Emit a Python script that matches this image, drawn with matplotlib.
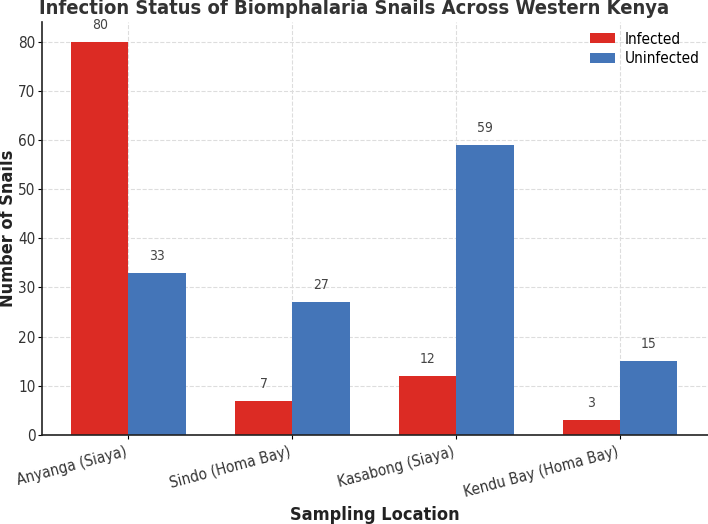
import numpy as np
import matplotlib
matplotlib.use("Agg")
import matplotlib.pyplot as plt

locations = ["Anyanga (Siaya)", "Sindo (Homa Bay)", "Kasabong (Siaya)", "Kendu Bay (Homa Bay)"]
infected = [80, 7, 12, 3]
uninfected = [33, 27, 59, 15]

RED = "#DC2B24"
BLUE = "#4475B8"
TXT = "#333333"

plt.rcParams["font.family"] = ["DejaVu Sans"]
plt.rcParams["font.stretch"] = "condensed"

fig = plt.figure(figsize=(7.08, 5.24), dpi=100)
ax = fig.add_axes([0.060, 0.17, 0.940, 0.788])

x = np.arange(len(locations))
w = 0.35
b1 = ax.bar(x - w / 2, infected, w, color=RED, label="Infected", zorder=2)
b2 = ax.bar(x + w / 2, uninfected, w, color=BLUE, label="Uninfected", zorder=2)

for bars in (b1, b2):
    for r in bars:
        h = r.get_height()
        ax.text(r.get_x() + r.get_width() / 2, h + 2.0, f"{int(h)}",
                ha="center", va="bottom", fontsize=10, color="#444444")

ax.set_xticks(x)
ax.set_xticklabels(locations, rotation=15, ha="right", fontsize=11, color=TXT)
ax.set_yticks(range(0, 81, 10))
ax.tick_params(axis="y", labelsize=11, labelcolor=TXT, length=3, pad=2)
ax.tick_params(axis="x", length=3, pad=4)
ax.set_xlim(-0.525, 3.537)
ax.set_ylim(0, 84)

fig.text(0.5, 0.984, "Infection Status of Biomphalaria Snails Across Western Kenya",
         ha="center", va="center", fontsize=14.5, fontweight="bold", color=TXT)
ax.set_xlabel("Sampling Location", fontsize=13, fontweight="bold", color="#222222", labelpad=4)
ax.set_ylabel("Number of Snails", fontsize=13, fontweight="bold", color="#222222", labelpad=1)

ax.grid(True, linestyle="--", color="#dddddd", linewidth=0.8, zorder=0)
ax.set_axisbelow(True)
for s in ["top", "right"]:
    ax.spines[s].set_visible(False)
for s in ["bottom", "left"]:
    ax.spines[s].set_color("#222222")
    ax.spines[s].set_linewidth(1.2)

ax.legend(frameon=False, fontsize=11, loc="upper right", bbox_to_anchor=(1.008, 1.01),
          handlelength=1.65, handleheight=0.6, handletextpad=0.65, labelspacing=0.3)

fig.savefig("out.png", dpi=100)
